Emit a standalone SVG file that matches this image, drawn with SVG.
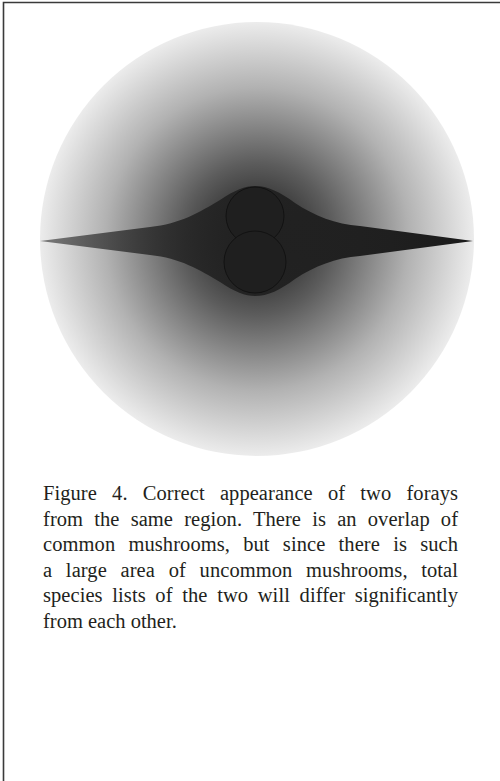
<svg xmlns="http://www.w3.org/2000/svg" width="500" height="781" viewBox="0 0 500 781">
<style>
.cap{font-family:"Liberation Serif","Times New Roman",serif;font-size:20.5px;fill:#231f20}
.frame{stroke:#3a3a3a;stroke-width:1.6;fill:none}
.blob{fill:#1f1f1f;stroke:#121212;stroke-width:1}
</style>
<defs>
<radialGradient id="bg" cx="257" cy="239" r="217" gradientUnits="userSpaceOnUse">
<stop offset="0" stop-color="#111111"/>
<stop offset="0.35" stop-color="#5c5c5c"/>
<stop offset="0.7" stop-color="#b2b2b2"/>
<stop offset="1" stop-color="#ececec"/>
</radialGradient>
<linearGradient id="sp" x1="40" y1="0" x2="473" y2="0" gradientUnits="userSpaceOnUse">
<stop offset="0" stop-color="#222" stop-opacity="0.55"/>
<stop offset="0.45" stop-color="#222" stop-opacity="0.95"/>
<stop offset="1" stop-color="#1a1a1a" stop-opacity="1"/>
</linearGradient>
</defs>
<path class="frame" d="M3.5,781 V2.5 H500"/>
<g id="region">
<circle cx="257" cy="239" r="217" fill="url(#bg)"/>
</g>
<g id="spindle">
<path fill="url(#sp)" d="M40,241 L150,227 C180,224 200,212 220,200 C235,190 245,186 255,186 C268,186 280,192 295,203 C315,216 335,224 360,226 L473,241 L360,256 C335,258 315,266 295,279 C280,290 268,296 255,296 C245,296 235,292 220,282 C200,270 180,258 150,255 Z"/>
</g>
<g id="foray1"><circle class="blob" cx="255" cy="216" r="29"/></g>
<g id="foray2"><circle class="blob" cx="255" cy="262" r="31"/></g>
<g id="caption" class="cap">
<text x="43" y="500" word-spacing="10" textLength="415" lengthAdjust="spacing">Figure 4. Correct appearance of two forays</text>
<text x="43" y="525.5" word-spacing="6" textLength="415" lengthAdjust="spacing">from the same region. There is an overlap of</text>
<text x="43" y="551" word-spacing="8" textLength="415" lengthAdjust="spacing">common mushrooms, but since there is such</text>
<text x="43" y="576.5" word-spacing="8.5" textLength="415" lengthAdjust="spacing">a large area of uncommon mushrooms, total</text>
<text x="43" y="602" word-spacing="4.5" textLength="415" lengthAdjust="spacing">species lists of the two will differ significantly</text>
<text x="43" y="627.5">from each other.</text>
</g>
</svg>
